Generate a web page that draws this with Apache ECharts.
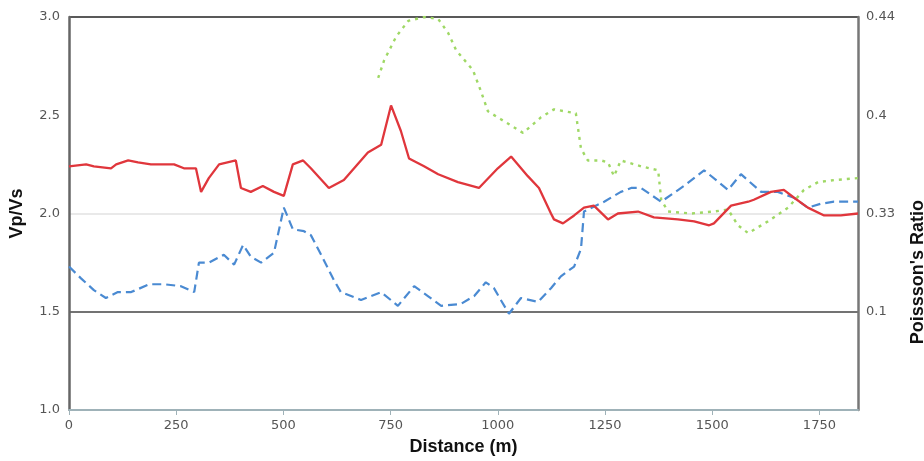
<!DOCTYPE html>
<html><head><meta charset="utf-8">
<script src="https://cdn.jsdelivr.net/npm/echarts@6/dist/echarts.min.js"></script>
<style>html,body{margin:0;padding:0;background:#fff}#c{width:924px;height:461px}</style>
</head><body><div id="c"></div>
<script>
const xTicks = [0, 250, 500, 750, 1000, 1250, 1500, 1750];
const leftTicks = [1.0, 1.5, 2.0, 2.5, 3.0];
const rightTickLabels = ['', '0.1', '0.33', '0.4', '0.44'];

const redX = [0,40,58,98,110,138,161,191,215,245,268,296,308,326,350,389,401,424,452,478,501,522,546,564,606,641,697,728,751,774,793,828,861,907,956,1000,1031,1070,1096,1124,1131,1152,1178,1201,1224,1257,1280,1327,1364,1420,1458,1493,1504,1544,1584,1597,1637,1667,1691,1723,1761,1800,1840];
const redY = [2.24,2.25,2.24,2.23,2.25,2.27,2.26,2.25,2.25,2.25,2.23,2.23,2.11,2.18,2.25,2.27,2.13,2.11,2.14,2.11,2.09,2.25,2.27,2.23,2.13,2.17,2.31,2.35,2.55,2.42,2.28,2.24,2.20,2.16,2.13,2.23,2.29,2.19,2.13,2.00,1.97,1.95,1.99,2.03,2.04,1.97,2.00,2.01,1.98,1.97,1.96,1.94,1.95,2.04,2.06,2.07,2.11,2.12,2.08,2.03,1.99,1.99,2.00];

const blueX = [0,28,58,86,114,145,187,222,261,292,303,326,361,385,406,424,448,478,501,522,548,564,588,618,634,681,728,767,805,837,868,914,945,972,991,1007,1026,1054,1094,1124,1147,1178,1194,1201,1248,1287,1311,1334,1381,1434,1481,1537,1567,1614,1653,1691,1723,1754,1784,1840];
const blueY = [1.73,1.67,1.61,1.57,1.60,1.60,1.64,1.64,1.63,1.60,1.75,1.75,1.79,1.74,1.84,1.78,1.75,1.80,2.03,1.92,1.91,1.89,1.79,1.66,1.60,1.56,1.60,1.53,1.63,1.58,1.53,1.54,1.58,1.65,1.62,1.56,1.49,1.57,1.55,1.62,1.68,1.73,1.82,2.01,2.06,2.11,2.13,2.13,2.06,2.14,2.22,2.12,2.20,2.11,2.11,2.08,2.03,2.05,2.06,2.06];

const greenX = [721,735,763,791,828,861,884,903,942,961,977,1007,1059,1101,1131,1182,1194,1210,1241,1257,1271,1287,1334,1374,1381,1397,1451,1504,1537,1560,1584,1630,1677,1714,1747,1784,1840];
const greenY = [2.69,2.78,2.90,2.98,3.00,2.99,2.92,2.83,2.73,2.62,2.52,2.48,2.41,2.49,2.53,2.51,2.33,2.27,2.27,2.26,2.19,2.27,2.24,2.22,2.07,2.01,2.00,2.01,2.02,1.94,1.90,1.96,2.03,2.12,2.16,2.17,2.18];

const pairs = (xs, ys) => xs.map((x, i) => [x, ys[i]]);

const chart = echarts.init(document.getElementById('c'));
const labelStyle = {color: '#555', fontFamily: 'DejaVu Sans', fontSize: 13};
const nameStyle = {color: '#111', fontFamily: 'Liberation Sans', fontWeight: 'bold', fontSize: 18};
chart.setOption({
  animation: false,
  grid: {left: 68, right: 66, top: 17, bottom: 49},
  xAxis: {
    type: 'value', min: 0, max: 1840, interval: 250,
    name: 'Distance (m)', nameLocation: 'middle', nameGap: 28,
    nameTextStyle: nameStyle,
    axisLine: {show: true, lineStyle: {color: '#9fb2b8', width: 2}},
    axisTick: {show: true, length: 5, lineStyle: {color: '#9fb2b8'}},
    axisLabel: Object.assign({margin: 9, showMaxLabel: false,
      formatter: v => xTicks.includes(v) ? String(v) : ''}, labelStyle),
    splitLine: {show: false}
  },
  yAxis: [{
    type: 'value', min: 1, max: 3, interval: 0.5, position: 'left',
    name: 'Vp/Vs', nameLocation: 'middle', nameGap: 43,
    nameTextStyle: nameStyle,
    axisLine: {show: true, lineStyle: {color: '#666', width: 2.5}},
    axisTick: {show: false},
    axisLabel: Object.assign({margin: 9, formatter: v => {
      const i = leftTicks.findIndex(t => Math.abs(t - v) < 1e-6);
      return i >= 0 ? leftTicks[i].toFixed(1) : '';
    }}, labelStyle),
    splitLine: {show: true, lineStyle: {color: ['rgba(0,0,0,0)', '#444', '#e2e2e2', 'rgba(0,0,0,0)', '#222'], width: 1.7}}
  }, {
    type: 'value', min: 1, max: 3, interval: 0.5, position: 'right',
    axisLine: {show: true, lineStyle: {color: '#777', width: 2.5}},
    axisTick: {show: false},
    axisLabel: Object.assign({margin: 8, formatter: v => {
      const i = leftTicks.findIndex(t => Math.abs(t - v) < 1e-6);
      return i >= 0 ? rightTickLabels[i] : '';
    }}, labelStyle),
    splitLine: {show: false}
  }],
  graphic: [{
    type: 'text', left: 909, top: 200, rotation: Math.PI / 2,
    style: {text: "Poissson's Ratio", fill: '#111', font: 'bold 18px "Liberation Sans"'}
  }],
  series: [{
    type: 'line', data: pairs(greenX, greenY), symbol: 'none', z: 2,
    lineStyle: {color: '#9fd865', width: 2.4, type: [3, 5]}
  }, {
    type: 'line', data: pairs(blueX, blueY), symbol: 'none', z: 3,
    lineStyle: {color: '#4a8ad2', width: 2.2, type: [9, 5]}
  }, {
    type: 'line', data: pairs(redX, redY), symbol: 'none', z: 4,
    lineStyle: {color: '#e0363c', width: 2.3}
  }]
});
</script></body></html>
